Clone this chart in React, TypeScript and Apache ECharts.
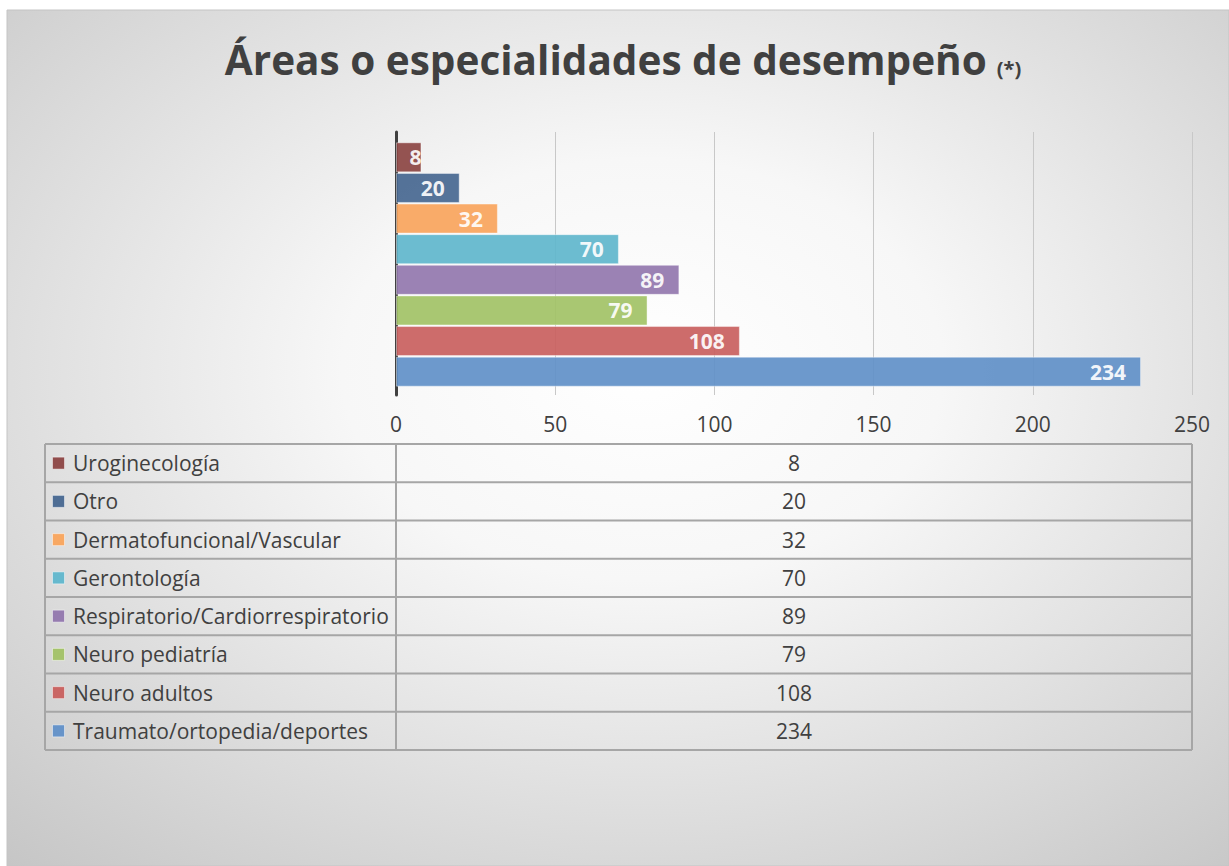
import React, { useEffect, useRef } from "react";
import * as echarts from "echarts";

const categories = [
  "Uroginecología",
  "Otro",
  "Dermatofuncional/Vascular",
  "Gerontología",
  "Respiratorio/Cardiorrespiratorio",
  "Neuro pediatría",
  "Neuro adultos",
  "Traumato/ortopedia/deportes",
];
const values = [8, 20, 32, 70, 89, 79, 108, 234];
const colors = ["#8c4543", "#476790", "#f9a45c", "#5fb6cc", "#9277ae", "#a2c266", "#c9605e", "#6190c8"];
const axisTicks = [0, 50, 100, 150, 200, 250];
const titleText = "Áreas o especialidades de desempeño";
const titleNote = "(*)";

const FONT = "'Open Sans', 'Noto Sans', sans-serif";
const TXT = "#404040";

export default function App() {
  const ref = useRef<HTMLDivElement>(null);
  useEffect(() => {
    document.body.style.margin = "0";
    const chart = echarts.init(ref.current!, null, { renderer: "svg" });

    const W = 1229, H = 866;
    const plotL = 396, plotR = 1192;
    const tblTop = 444, rowH = 38.25, tblL = 45;
    const n = categories.length;
    const tblBottom = tblTop + rowH * n;
    const lineColor = "#a6a6a6";

    const graphics: any[] = [];
    graphics.push({
      type: "rect",
      z: -10,
      shape: { x: 7, y: 10, width: W - 7, height: H - 10 },
      style: {
        fill: new echarts.graphic.RadialGradient(0.52, 0.42, 0.82, [
          { offset: 0, color: "#ffffff" },
          { offset: 0.3, color: "#f7f7f7" },
          { offset: 1, color: "#c2c2c2" },
        ]),
        stroke: "#c4c4c4",
        lineWidth: 1,
      },
      silent: true,
    });
    // table lines
    for (let i = 0; i <= n; i++) {
      const y = tblTop + i * rowH;
      graphics.push({
        type: "line",
        shape: { x1: tblL, y1: y, x2: plotR, y2: y },
        style: { stroke: lineColor, lineWidth: 2 },
        silent: true,
      });
    }
    [tblL, plotL, plotR].forEach((x) => {
      graphics.push({
        type: "line",
        shape: { x1: x, y1: tblTop, x2: x, y2: tblBottom },
        style: { stroke: lineColor, lineWidth: 2 },
        silent: true,
      });
    });
    categories.forEach((c, i) => {
      const cy = tblTop + i * rowH + rowH / 2;
      graphics.push({
        type: "rect",
        shape: { x: 52.5, y: cy - 6, width: 12, height: 12 },
        style: { fill: colors[i], stroke: "rgba(255,255,255,0.5)", lineWidth: 1, opacity: 0.95 },
        silent: true,
      });
      graphics.push({
        type: "text",
        x: 73,
        y: cy,
        style: { text: c, font: `21px ${FONT}`, fill: TXT, verticalAlign: "middle", align: "left" },
        silent: true,
      });
      graphics.push({
        type: "text",
        x: (plotL + plotR) / 2,
        y: cy,
        style: { text: String(values[i]), font: `21px ${FONT}`, fill: TXT, verticalAlign: "middle", align: "center" },
        silent: true,
      });
    });

    chart.setOption({
      animation: false,
      backgroundColor: "#ffffff",
      title: {
        text: `{a|${titleText}}  {b|${titleNote}}`,
        left: 618,
        textAlign: "center",
        top: 34,
        textStyle: {
          rich: {
            a: { fontFamily: FONT, fontWeight: "bold", fontSize: 40.5, color: TXT },
            b: { fontFamily: FONT, fontWeight: "bold", fontSize: 20, color: TXT, verticalAlign: "bottom", padding: [0, 0, 2, 0] },
          },
        },
      },
      graphic: graphics,
      grid: [
        { left: plotL, right: W - plotR, top: 132, height: 263 },
        { left: plotL, right: W - plotR, top: 142, height: 245 },
      ],
      xAxis: [
        {
          gridIndex: 0,
          type: "value",
          min: axisTicks[0],
          max: axisTicks[axisTicks.length - 1],
          interval: axisTicks[1] - axisTicks[0],
          axisLine: { show: false },
          axisTick: { show: false },
          axisLabel: { fontFamily: FONT, fontSize: 21, color: TXT, margin: 18 },
          splitLine: { show: true, lineStyle: { color: "#c8c8c8", width: 1 } },
        },
        {
          gridIndex: 1,
          type: "value",
          min: axisTicks[0],
          max: axisTicks[axisTicks.length - 1],
          show: false,
        },
      ],
      yAxis: [
        {
          gridIndex: 0,
          type: "value",
          min: 0,
          max: 1,
          axisLine: { show: true, lineStyle: { color: "#404040", width: 3 } },
          axisTick: { show: false },
          axisLabel: { show: false },
          splitLine: { show: false },
        },
        {
          gridIndex: 1,
          type: "category",
          data: categories,
          inverse: true,
          show: false,
        },
      ],
      series: [
        {
          type: "bar",
          xAxisIndex: 1,
          yAxisIndex: 1,
          barCategoryGap: "2%",
          z: 3,
          data: values.map((v, i) => ({
            value: v,
            itemStyle: { color: colors[i], opacity: 0.92, borderColor: "rgba(255,255,255,0.45)", borderWidth: 1 },
            label: { distance: v < 12 ? 0 : 15 },
          })),
          label: {
            show: true,
            position: "insideRight",
            distance: 15,
            color: "#ffffff",
            fontFamily: FONT,
            fontWeight: "bold",
            fontSize: 21,
          },
        },
      ],
    });
    return () => chart.dispose();
  }, []);
  return <div ref={ref} style={{ width: 1229, height: 866 }} />;
}
